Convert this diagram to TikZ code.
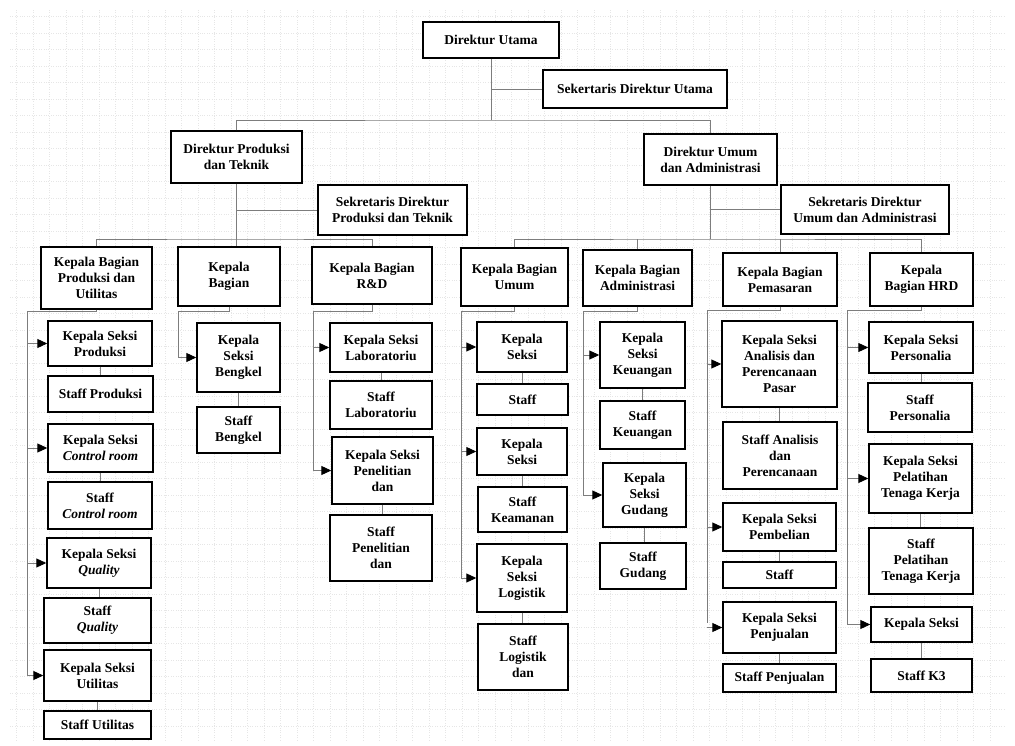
\documentclass[tikz,border=0pt]{standalone}
\usepackage{fontspec}
\setmainfont{Liberation Serif}
\usepackage{xcolor}
\definecolor{linegray}{RGB}{125,125,125}
\definecolor{gridgray}{RGB}{230,230,230}
\usepackage{tikz}
\usetikzlibrary{arrows.meta}

\tikzset{
  unit/.style={draw, line width=1.4pt, fill=white, align=center, inner sep=1pt,
               font=\bfseries\fontsize{13.5}{16}\selectfont},
  link/.style={linegray, line width=0.9pt},
  arr/.style={link, -{Triangle[length=10pt,width=9pt,color=black]}}
}

\begin{document}
\begin{tikzpicture}[x=1pt, y=-1pt]
                % Fix the frame and draw the faint grid
                \useasboundingbox (0,0) rectangle (1015,746);
                \draw[gridgray, dotted, line width=0.4pt] (10,10) grid[step=16.5pt] (1005,740);

                % Directors and secretaries
                \node[unit, minimum width=136pt, minimum height=36pt] (du) at (491,40) {Direktur Utama};
                \node[unit, minimum width=184pt, minimum height=38pt] (sdu) at (635,89) {Sekertaris Direktur Utama};
                \node[unit, minimum width=131pt, minimum height=52pt] (dpt) at (236.5,157) {Direktur Produksi\\dan Teknik};
                \node[unit, minimum width=133pt, minimum height=51pt] (dua) at (710.5,159.5) {Direktur Umum\\dan Administrasi};
                \node[unit, minimum width=149pt, minimum height=50pt] (sdpt) at (392.5,210) {Sekretaris Direktur\\Produksi dan Teknik};
                \node[unit, minimum width=168pt, minimum height=49pt] (sdua) at (865,209.5) {Sekretaris Direktur\\Umum dan Administrasi};

                % Heads of department
                \node[unit, minimum width=111pt, minimum height=62pt] (kbpu) at (96.5,278) {Kepala Bagian\\Produksi dan\\Utilitas};
                \node[unit, minimum width=102pt, minimum height=59pt] (kb) at (229,276.5) {Kepala\\Bagian};
                \node[unit, minimum width=120pt, minimum height=57pt] (kbrd) at (372,275.5) {Kepala Bagian\\R\&D};
                \node[unit, minimum width=107pt, minimum height=58pt] (kbum) at (514.5,277) {Kepala Bagian\\Umum};
                \node[unit, minimum width=109pt, minimum height=56pt] (kbadm) at (637.5,278) {Kepala Bagian\\Administrasi};
                \node[unit, minimum width=114pt, minimum height=53pt] (kbpem) at (780,279.5) {Kepala Bagian\\Pemasaran};
                \node[unit, minimum width=103pt, minimum height=53pt] (kbhrd) at (921.5,279.5) {Kepala\\Bagian HRD};

                % Produksi dan Utilitas column
                \node[unit, minimum width=104pt, minimum height=45pt] (ksprod) at (100,343.5) {Kepala Seksi\\Produksi};
                \node[unit, minimum width=105pt, minimum height=36pt] (stprod) at (100.5,394) {Staff Produksi};
                \node[unit, minimum width=105pt, minimum height=48pt] (kscr) at (100.5,448) {Kepala Seksi\\\textit{Control room}};
                \node[unit, minimum width=104pt, minimum height=47pt] (stcr) at (100,505.5) {Staff\\\textit{Control room}};
                \node[unit, minimum width=104pt, minimum height=50pt] (ksq) at (99,563) {Kepala Seksi\\\textit{Quality}};
                \node[unit, minimum width=107pt, minimum height=45pt] (stq) at (97.5,620.5) {Staff\\\textit{Quality}};
                \node[unit, minimum width=107pt, minimum height=51pt] (ksut) at (97.5,675.5) {Kepala Seksi\\Utilitas};
                \node[unit, minimum width=107pt, minimum height=28pt] (stut) at (97.5,725) {Staff Utilitas};

                % Bengkel column
                \node[unit, minimum width=83pt, minimum height=69pt] (ksbeng) at (238.5,357.5) {Kepala\\Seksi\\Bengkel};
                \node[unit, minimum width=83pt, minimum height=46pt] (stbeng) at (238.5,430) {Staff\\Bengkel};

                % R&D column
                \node[unit, minimum width=102pt, minimum height=49pt] (kslab) at (381,347.5) {Kepala Seksi\\Laboratoriu};
                \node[unit, minimum width=102pt, minimum height=48pt] (stlab) at (381,405) {Staff\\Laboratoriu};
                \node[unit, minimum width=101pt, minimum height=67pt] (kspen) at (382.5,470.5) {Kepala Seksi\\Penelitian\\dan};
                \node[unit, minimum width=102pt, minimum height=66pt] (stpen) at (381,548) {Staff\\Penelitian\\dan};

                % Umum column
                \node[unit, minimum width=90pt, minimum height=50pt] (ksumum) at (522,347) {Kepala\\Seksi};
                \node[unit, minimum width=91pt, minimum height=31pt] (stumum) at (522.5,399.5) {Staff};
                \node[unit, minimum width=90pt, minimum height=47pt] (kskeam) at (522,451.5) {Kepala\\Seksi};
                \node[unit, minimum width=89pt, minimum height=45pt] (stkeam) at (522.5,509.5) {Staff\\Keamanan};
                \node[unit, minimum width=90pt, minimum height=68pt] (kslog) at (522,578) {Kepala\\Seksi\\Logistik};
                \node[unit, minimum width=90pt, minimum height=66pt] (stlog) at (523,657) {Staff\\Logistik\\dan};

                % Administrasi column
                \node[unit, minimum width=85pt, minimum height=66pt] (kskeu) at (642.5,355) {Kepala\\Seksi\\Keuangan};
                \node[unit, minimum width=85pt, minimum height=48pt] (stkeu) at (642.5,425) {Staff\\Keuangan};
                \node[unit, minimum width=83pt, minimum height=64pt] (ksgud) at (644.5,495) {Kepala\\Seksi\\Gudang};
                \node[unit, minimum width=86pt, minimum height=46pt] (stgud) at (643,566) {Staff\\Gudang};

                % Pemasaran column
                \node[unit, minimum width=115pt, minimum height=86pt] (ksana) at (779.5,364) {Kepala Seksi\\Analisis dan\\Perencanaan\\Pasar};
                \node[unit, minimum width=114pt, minimum height=67pt] (stana) at (780,455.5) {Staff Analisis\\dan\\Perencanaan};
                \node[unit, minimum width=113pt, minimum height=48pt] (kspemb) at (779.5,527) {Kepala Seksi\\Pembelian};
                \node[unit, minimum width=113pt, minimum height=26pt] (stpemb) at (779.5,575) {Staff};
                \node[unit, minimum width=113pt, minimum height=51pt] (kspenj) at (779.5,627.5) {Kepala Seksi\\Penjualan};
                \node[unit, minimum width=113pt, minimum height=28pt] (stpenj) at (779.5,678) {Staff Penjualan};

                % HRD column
                \node[unit, minimum width=104pt, minimum height=51pt] (kspers) at (921,347.5) {Kepala Seksi\\Personalia};
                \node[unit, minimum width=104pt, minimum height=49pt] (stpers) at (920,407.5) {Staff\\Personalia};
                \node[unit, minimum width=103pt, minimum height=69pt] (kspel) at (920.5,478.5) {Kepala Seksi\\Pelatihan\\Tenaga Kerja};
                \node[unit, minimum width=104pt, minimum height=66pt] (stpel) at (921,561) {Staff\\Pelatihan\\Tenaga Kerja};
                \node[unit, minimum width=101pt, minimum height=35pt] (ksk3) at (921.5,624.5) {Kepala Seksi};
                \node[unit, minimum width=101pt, minimum height=33pt] (stk3) at (921.5,675.5) {Staff K3};

                % Lines between the directors
                \coordinate (j0) at (491,120);
                \coordinate (j1) at (236.5,239);
                \coordinate (j2) at (710.5,239);
                \draw[link] (du.south) -- (j0);
                \draw[link] (du.south |- sdu.west) -- (sdu.west);
                \draw[link] (dpt.north) |- (j0) -| (dua.north);
                \draw[link] (dpt.south) -- (kb.north -| dpt.south);
                \draw[link] (dpt.south |- sdpt.west) -- (sdpt.west);
                \draw[link] (kbpu.north) |- (j1) -| (kbrd.north);
                \draw[link] (dua.south) -- (j2);
                \draw[link] (dua.south |- sdua.west) -- (sdua.west);
                \draw[link] (kbum.north) |- (j2) -| (kbhrd.north);
                \draw[link] (kbadm.north) -- (kbadm.north |- j2);
                \draw[link] (kbpem.north) -- (kbpem.north |- j2);

                % Buses down the left side of each column
                \coordinate (b1) at (27,311);
                \coordinate (b2) at (178,311);
                \coordinate (b3) at (313,311);
                \coordinate (b4) at (461,311);
                \coordinate (b5) at (583,311);
                \coordinate (b6) at (707,310);
                \coordinate (b7) at (847,310);
                \draw[link] (kbpu.south) |- (b1) -- (b1 |- ksut.west);
                \draw[link] (kb.south) |- (b2) -- (b2 |- ksbeng.west);
                \draw[link] (kbrd.south) |- (b3) -- (b3 |- kspen.west);
                \draw[link] (kbum.south) |- (b4) -- (b4 |- kslog.west);
                \draw[link] (kbadm.south) |- (b5) -- (b5 |- ksgud.west);
                \draw[link] (kbpem.south) |- (b6) -- ([yshift=5pt]b6 |- kspenj.west);
                \draw[link] (kbhrd.south) |- (b7) -- (b7 |- ksk3.west);

                % Arrows into each section head
                \draw[arr] (b1 |- ksprod.west) -- (ksprod.west);
                \draw[arr] (b1 |- kscr.west) -- (kscr.west);
                \draw[arr] (b1 |- ksq.west) -- (ksq.west);
                \draw[arr] (b1 |- ksut.west) -- (ksut.west);
                \draw[arr] (b2 |- ksbeng.west) -- (ksbeng.west);
                \draw[arr] (b3 |- kslab.west) -- (kslab.west);
                \draw[arr] (b3 |- kspen.west) -- (kspen.west);
                \draw[arr] (b4 |- ksumum.west) -- (ksumum.west);
                \draw[arr] (b4 |- kskeam.west) -- (kskeam.west);
                \draw[arr] (b4 |- kslog.west) -- (kslog.west);
                \draw[arr] (b5 |- kskeu.west) -- (kskeu.west);
                \draw[arr] (b5 |- ksgud.west) -- (ksgud.west);
                \draw[arr] (b6 |- ksana.west) -- (ksana.west);
                \draw[arr] (b6 |- kspemb.west) -- (kspemb.west);
                \draw[arr] (b6 |- kspenj.west) -- (kspenj.west);
                \draw[arr] (b7 |- kspers.west) -- (kspers.west);
                \draw[arr] (b7 |- kspel.west) -- (kspel.west);
                \draw[arr] (b7 |- ksk3.west) -- (ksk3.west);

                % Section heads to their staff
                \draw[link] (ksprod.south) -- (ksprod.south |- stprod.north);
                \draw[link] (kscr.south) -- (kscr.south |- stcr.north);
                \draw[link] (ksq.south) -- (ksq.south |- stq.north);
                \draw[link] (ksut.south) -- (ksut.south |- stut.north);
                \draw[link] (ksbeng.south) -- (ksbeng.south |- stbeng.north);
                \draw[link] (kslab.south) -- (kslab.south |- stlab.north);
                \draw[link] (kspen.south) -- (kspen.south |- stpen.north);
                \draw[link] (ksumum.south) -- (ksumum.south |- stumum.north);
                \draw[link] (kskeam.south) -- (kskeam.south |- stkeam.north);
                \draw[link] (kslog.south) -- (kslog.south |- stlog.north);
                \draw[link] (kskeu.south) -- (kskeu.south |- stkeu.north);
                \draw[link] (ksgud.south) -- (ksgud.south |- stgud.north);
                \draw[link] (ksana.south) -- (ksana.south |- stana.north);
                \draw[link] (kspemb.south) -- (kspemb.south |- stpemb.north);
                \draw[link] (kspenj.south) -- (kspenj.south |- stpenj.north);
                \draw[link] (kspers.south) -- (kspers.south |- stpers.north);
                \draw[link] (kspel.south) -- (kspel.south |- stpel.north);
                \draw[link] (ksk3.south) -- (ksk3.south |- stk3.north);
        \end{tikzpicture}
\end{document}
